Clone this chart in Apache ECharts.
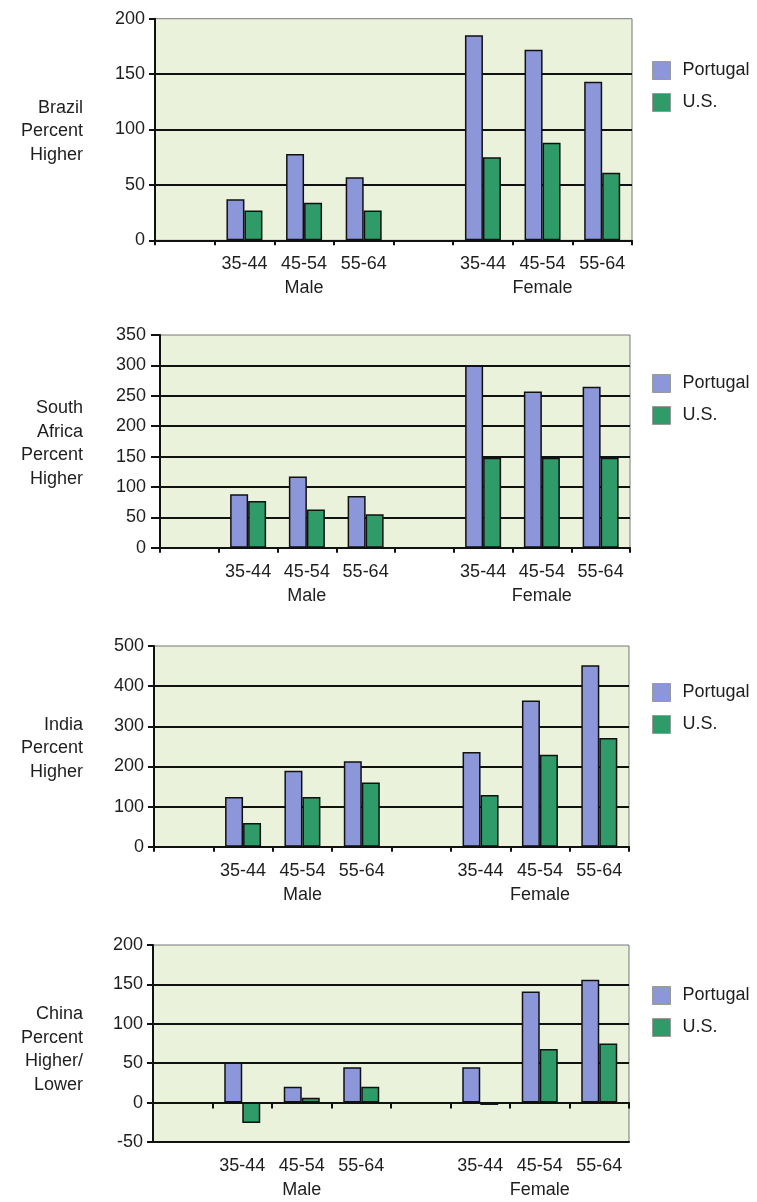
<!DOCTYPE html>
<html>
<head>
<meta charset="utf-8">
<script src="https://cdn.jsdelivr.net/npm/echarts@6/dist/echarts.min.js"></script>
<style>
  html, body { margin: 0; padding: 0; background: #ffffff; }
  #chart { width: 757px; height: 1202px; }
</style>
</head>
<body>
<div id="chart"></div>
<script>
// ---- Data ----
const categories = ['', '35-44', '45-54', '55-64', '', '35-44', '45-54', '55-64'];
const sexLabels = ['', '', 'Male', '', '', '', 'Female', ''];
const seriesNames = ['Portugal', 'U.S.'];

const panelTitles = [
  'Brazil\nPercent\nHigher',
  'South\nAfrica\nPercent\nHigher',
  'India\nPercent\nHigher',
  'China\nPercent\nHigher/\nLower'
];

const brazilPortugal      = [null, 37, 78, 57, null, 185, 172, 143];
const brazilUS            = [null, 27, 34, 27, null, 75, 88, 61];
const southAfricaPortugal = [null, 88, 117, 85, null, 300, 257, 265];
const southAfricaUS       = [null, 77, 63, 55, null, 148, 148, 148];
const indiaPortugal       = [null, 124, 189, 213, null, 236, 364, 452];
const indiaUS             = [null, 59, 124, 160, null, 129, 229, 271];
const chinaPortugal       = [null, 51, 20, 45, null, 45, 141, 156];
const chinaUS             = [null, -26, 6, 20, null, -3, 68, 75];

const yMin = [0, 0, 0, -50];
const yMax = [200, 350, 500, 200];
const yInterval = [50, 50, 100, 50];

// ---- Layout ----
const grids = [
  { left: 155, top: 18.7, width: 477, height: 221.6 },
  { left: 160, top: 335,  width: 470, height: 212.7 },
  { left: 154, top: 646,  width: 475, height: 200.7 },
  { left: 153, top: 945,  width: 476, height: 205 }
];
const legendTops = [61, 374, 683, 986];

const panelData = [
  [brazilPortugal, brazilUS],
  [southAfricaPortugal, southAfricaUS],
  [indiaPortugal, indiaUS],
  [chinaPortugal, chinaUS]
];

const colors = ['#8c97d9', '#2f9b69'];
const FONT = '"Liberation Sans", Arial, Helvetica, sans-serif';
const TXT = '#1e1e1e';

const option = {
  animation: false,
  backgroundColor: '#ffffff',
  textStyle: { fontFamily: FONT },
  grid: [], xAxis: [], yAxis: [], series: [], legend: [], graphic: []
};

grids.forEach((g, p) => {
  option.grid.push({
    left: g.left, top: g.top, width: g.width, height: g.height,
    show: true, backgroundColor: '#ebf2dc', borderColor: '#777', borderWidth: 1
  });

  const isChina = p === 3;
  // label axis (at bottom)
  option.xAxis.push({
    type: 'category', gridIndex: p, data: categories, position: 'bottom',
    boundaryGap: true,
    axisLine: { show: true, onZero: !isChina, lineStyle: { color: '#111', width: 2 } },
    axisTick: { show: !isChina, interval: 0, length: 5, alignWithLabel: false, lineStyle: { color: '#111', width: 2 } },
    axisLabel: {
      interval: 0, margin: 12, fontSize: 18, lineHeight: 24, color: TXT, fontFamily: FONT,
      formatter: (v, i) => sexLabels[i] ? v + '\n' + sexLabels[i] : v
    },
    splitLine: { show: false }
  });

  const barAxis = option.xAxis.length - 1;
  if (isChina) {
    // zero-line axis with ticks
    option.xAxis.push({
      type: 'category', gridIndex: p, data: categories, position: 'bottom',
      boundaryGap: true,
      axisLine: { show: true, onZero: true, lineStyle: { color: '#111', width: 2 } },
      axisTick: { show: true, interval: 0, length: 6, lineStyle: { color: '#111', width: 2 } },
      axisLabel: { show: false },
      splitLine: { show: false }
    });
  }

  option.yAxis.push({
    type: 'value', gridIndex: p, min: yMin[p], max: yMax[p], interval: yInterval[p],
    axisLine: { show: true, lineStyle: { color: '#111', width: 2 } },
    axisTick: { show: true, length: p === 1 ? 9 : 6, lineStyle: { color: '#111', width: 2 } },
    axisLabel: { fontSize: 18, color: TXT, margin: p === 1 ? 14 : 10, fontFamily: FONT },
    splitLine: { show: true, showMaxLine: false, lineStyle: { color: '#111', width: 2 } }
  });

  seriesNames.forEach((name, s) => {
    option.series.push({
      type: 'bar', name: name, xAxisIndex: barAxis, yAxisIndex: p,
      data: panelData[p][s],
      barWidth: 18, barGap: '0%',
      itemStyle: { color: colors[s], borderColor: '#111', borderWidth: 1.5 }
    });
  });

  option.legend.push({
    data: seriesNames, orient: 'vertical', left: 652, top: legendTops[p], padding: 0,
    itemWidth: 18, itemHeight: 18, itemGap: 13, icon: 'rect',
    itemStyle: { borderColor: '#999', borderWidth: 1 },
    textStyle: { fontSize: 18, color: TXT, fontFamily: FONT, padding: [0, 0, 0, 7] },
    selectedMode: false
  });

  option.graphic.push({
    type: 'text', x: 83, y: g.top + g.height / 2 + 2,
    style: {
      text: panelTitles[p], x: 0, y: 0, align: 'right', verticalAlign: 'middle',
      font: '18px ' + FONT, lineHeight: 23.5, fill: TXT
    }
  });
});

const chart = echarts.init(document.getElementById('chart'), null, { renderer: 'canvas' });
chart.setOption(option);
</script>
</body>
</html>
